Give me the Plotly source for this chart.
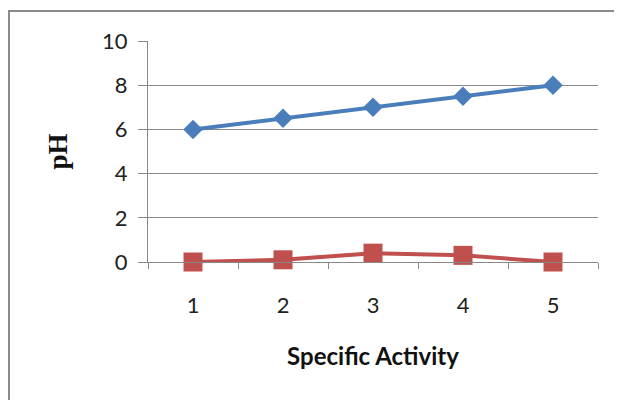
import plotly.graph_objects as go

categories = ["1", "2", "3", "4", "5"]
series_blue = [6, 6.5, 7, 7.5, 8]
series_red = [0, 0.1, 0.4, 0.3, 0]
y_ticks = [0, 2, 4, 6, 8, 10]

grid = "#888888"

fig = go.Figure()
fig.add_trace(go.Scatter(
    x=categories, y=series_blue, mode="lines+markers",
    line=dict(color="#4A7EBB", width=4),
    marker=dict(symbol="diamond", size=15, color="#4A7EBB"),
    showlegend=False, cliponaxis=False,
))
fig.add_trace(go.Scatter(
    x=categories, y=series_red, mode="lines+markers",
    line=dict(color="#C0504D", width=4),
    marker=dict(symbol="square", size=19, color="#C0504D"),
    showlegend=False, cliponaxis=False,
))

fig.update_layout(
    width=614, height=392,
    margin=dict(l=140, r=24, t=33, b=138),
    paper_bgcolor="white", plot_bgcolor="white",
    font=dict(family="Lato, Open Sans, sans-serif", size=22, color="#222222"),
    xaxis=dict(
        type="category", range=[-0.5, 4.5], tickson="boundaries",
        ticks="outside", ticklen=6,
        tickcolor=grid, showline=True, linecolor=grid, linewidth=1,
        showgrid=False, ticklabelstandoff=24,
        title=dict(text="<b>Specific Activity</b>", standoff=30,
                   font=dict(family="Lato, sans-serif", size=24, color="#111111")),
    ),
    yaxis=dict(
        range=[0, 10], tickvals=y_ticks, ticks="outside", ticklen=9,
        tickcolor=grid, showline=True, linecolor=grid, linewidth=1,
        showgrid=True, gridcolor=grid, gridwidth=1, zeroline=False,
        ticklabelstandoff=6,
        title=dict(text="<b>pH</b>", standoff=26,
                   font=dict(family="Liberation Serif, serif", size=27, color="#111111")),
    ),
    shapes=[dict(type="rect", xref="paper", yref="paper",
                 x0=-0.309, x1=1.1, y0=-0.8, y1=1.136,
                 line=dict(color="#8A8A8A", width=2), layer="below")],
)

fig.write_html("out.html")
